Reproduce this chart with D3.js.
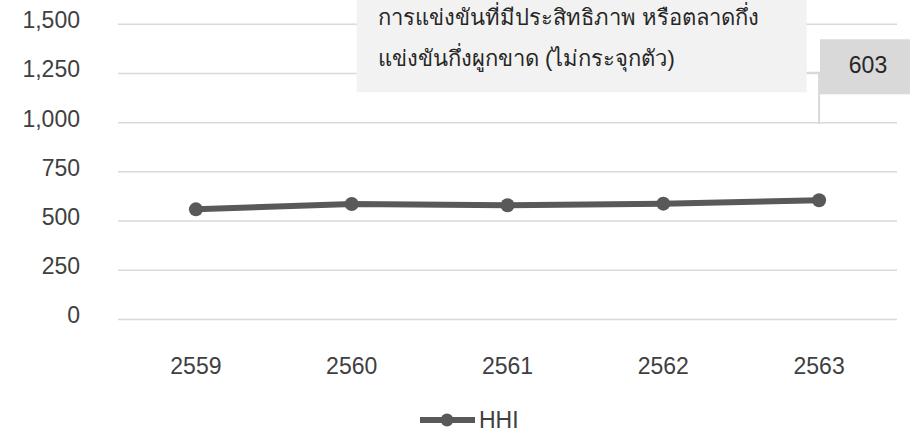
<!DOCTYPE html>
<html>
<head>
<meta charset="utf-8">
<script src="https://cdn.jsdelivr.net/npm/d3@7"></script>
<style>
  html, body { margin: 0; padding: 0; background: #ffffff; }
  svg { display: block; font-family: "Liberation Sans", Arial, sans-serif; }
</style>
</head>
<body>
<svg id="chart" width="910" height="429"></svg>
<script>
// HHI by year (Thai Buddhist-era years)
const years = ["2559", "2560", "2561", "2562", "2563"];
const hhiValues = [557, 584, 578, 586, 603];
const yTicks = [0, 250, 500, 750, 1000, 1250, 1500];
const seriesName = "HHI";
const calloutLines = [
  "การแข่งขันที่มีประสิทธิภาพ หรือตลาดกึ่ง",
  "แข่งขันกึ่งผูกขาด (ไม่กระจุกตัว)"
];
const labelledIndex = 4;

const svg = d3.select("#chart");
const plot = { left: 118, right: 897, top: 23.7, bottom: 319 };

const x = d3.scaleBand().domain(years).range([plot.left, plot.right]);
const y = d3.scaleLinear().domain([0, 1500]).range([plot.bottom, plot.top]);

const textColor = "#404040";
const gridColor = "#d9d9d9";
const lineColor = "#595959";
const fontSize = 23;

// horizontal gridlines + y labels
const yAxis = d3.axisLeft(y)
  .tickValues(yTicks)
  .tickSize(-(plot.right - plot.left))
  .tickPadding(38)
  .tickFormat(d3.format(","));

const gy = svg.append("g")
  .attr("transform", `translate(${plot.left},0)`)
  .call(yAxis);
gy.select(".domain").remove();
gy.selectAll(".tick line").attr("stroke", gridColor).attr("stroke-width", 1.5);
gy.selectAll(".tick text")
  .attr("fill", textColor)
  .attr("font-size", fontSize)
  .attr("dy", "0.17em")
  .style("font-family", "'Liberation Sans', Arial, sans-serif");

// x labels
const xAxis = d3.axisBottom(x).tickSize(0).tickPadding(39);
const gx = svg.append("g")
  .attr("transform", `translate(0,${plot.bottom})`)
  .call(xAxis);
gx.select(".domain").remove();
gx.selectAll(".tick text")
  .attr("fill", textColor)
  .attr("font-size", fontSize)
  .style("font-family", "'Liberation Sans', Arial, sans-serif");

const cx = d => x(d) + x.bandwidth() / 2;

// series line
const line = d3.line()
  .x((d, i) => cx(years[i]))
  .y(d => y(d));

svg.append("path")
  .datum(hhiValues)
  .attr("d", line)
  .attr("fill", "none")
  .attr("stroke", lineColor)
  .attr("stroke-width", 6)
  .attr("stroke-linejoin", "round");

svg.append("g").selectAll("circle")
  .data(hhiValues)
  .join("circle")
  .attr("cx", (d, i) => cx(years[i]))
  .attr("cy", d => y(d))
  .attr("r", 7)
  .attr("fill", lineColor);

// callout box with note text
const boxX = 356.7, boxRight = 806.7, boxBottom = 92.3;
svg.append("rect")
  .attr("x", boxX).attr("y", -40)
  .attr("width", boxRight - boxX).attr("height", boxBottom + 40)
  .attr("fill", "#f2f2f2");

svg.append("g").selectAll("text")
  .data(calloutLines)
  .join("text")
  .attr("x", 378)
  .attr("y", (d, i) => 25 + i * 41)
  .attr("fill", "#262626")
  .attr("font-size", 22)
  .text(d => d);

// data label for the last point with leader line
const lx = cx(years[labelledIndex]);
const leaderY = 72.7;
svg.append("path")
  .attr("d", `M${boxRight},${leaderY}H${lx}V124.3`)
  .attr("fill", "none")
  .attr("stroke", gridColor)
  .attr("stroke-width", 2);

svg.append("rect")
  .attr("x", 820).attr("y", 39.3)
  .attr("width", 100).attr("height", 55)
  .attr("fill", "#d9d9d9");

svg.append("text")
  .attr("x", 868).attr("y", 73)
  .attr("text-anchor", "middle")
  .attr("fill", "#262626")
  .attr("font-size", fontSize)
  .text(d3.format(",")(hhiValues[labelledIndex]));

// legend
const legY = 420, legX = 447;
const leg = svg.append("g");
leg.append("line")
  .attr("x1", legX - 27).attr("x2", legX + 28)
  .attr("y1", legY).attr("y2", legY)
  .attr("stroke", lineColor).attr("stroke-width", 6);
leg.append("circle")
  .attr("cx", legX).attr("cy", legY).attr("r", 6.5)
  .attr("fill", lineColor);
leg.append("text")
  .attr("x", legX + 32).attr("y", 427.5)
  .attr("fill", textColor)
  .attr("font-size", fontSize)
  .text(seriesName);
</script>
</body>
</html>
